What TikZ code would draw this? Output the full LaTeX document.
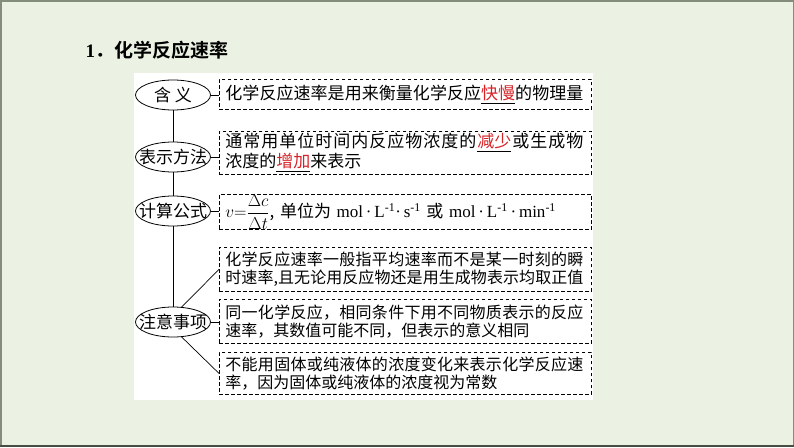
\documentclass[tikz,border=0pt]{standalone}
\usepackage{fontspec}
\usepackage{amsmath}
\setmainfont{Liberation Serif}
\newfontfamily\cjk{Noto Sans CJK SC}[BoldFont={Noto Sans CJK SC Bold}]
\usetikzlibrary{shapes.geometric,positioning}
\definecolor{pagegreen}{RGB}{235,241,227}
\definecolor{framegray}{RGB}{132,140,124}
\definecolor{framedark}{RGB}{70,78,66}
\definecolor{keyred}{RGB}{215,35,40}
\newcommand\keyword[1]{\underline{\textcolor{keyred}{#1}}}
% spread the characters of a full line over the box width
\makeatletter
\def\fullline#1{\hbox to 358pt{\spread@next#1\spread@stop}}
\def\spread@next#1#2\spread@stop{#1\if\relax\detokenize{#2}\relax\else
  \hfil\spread@next#2\spread@stop\fi}
\makeatother

\begin{document}
\begin{tikzpicture}[x=1pt,y=-1pt,
  topic/.style={ellipse,draw,line width=0.8pt,fill=white,minimum width=75pt,
    minimum height=30pt,inner sep=0pt,font=\cjk\fontsize{17}{20}\selectfont},
  note/.style={draw,dash pattern=on 3.5pt off 2.5pt,line width=0.8pt,anchor=north west,
    text width=360pt,inner xsep=6pt,inner ysep=0pt,align=left,
    font=\cjk\fontsize{17}{19.5}\selectfont},
  smallnote/.style={note,font=\cjk\fontsize{16}{18.5}\selectfont},
  link/.style={line width=0.7pt}]
  \useasboundingbox (0,0) rectangle (794,447);
  % page and frame
  \fill[pagegreen] (0,0) rectangle (794,447);
  \draw[framegray,line width=1.5pt] (0.75,0.75) rectangle (793.25,446.25);
  \draw[framedark,line width=2pt] (0,446) -- (794,446);
  \fill[white] (134,73) rectangle (593,400);
  \node[anchor=west,font=\cjk\bfseries\fontsize{19}{22}\selectfont] (title) at (82,50)
    {{\rmfamily\bfseries 1}．化学反应速率};

  % left column
  \node[topic] (hanyi)  at (173,95)  {\makebox[0pt]{含\hspace{4pt}义}};
  \node[topic] (fangfa) at (173,157) {\makebox[0pt]{表示方法}};
  \node[topic] (gongshi) at (173,211) {\makebox[0pt]{计算公式}};
  \node[topic] (zhuyi)  at (173,322) {\makebox[0pt]{注意事项}};

  % right column
  \node[note,minimum height=30pt] (meaning) at (219,79)
    {\fullline{化学反应速率是用来衡量化学反应{\keyword{快慢}}的物理量}};
  \node[note,minimum height=43pt] (method) at (219,131)
    {\fullline{通常用单位时间内反应物浓度的{\keyword{减少}}或生成物}\\
     浓度的\keyword{增加}来表示};
  \node[note,minimum height=33pt] (formula) at (219,194)
    {$v{=}\dfrac{\Delta c}{\Delta t}$, 单位为 \textrm{mol\,·\,L\textsuperscript{-1}·\,s\textsuperscript{-1}}
     或 \textrm{mol\,·\,L\textsuperscript{-1}\,·\,min\textsuperscript{-1}}};
  \node[smallnote,minimum height=44pt] (average) at (219,247)
    {\fullline{化学反应速率一般指平均速率而不是某一时刻的瞬}\\
     \fullline{时速率,且无论用反应物还是用生成物表示均取正值}};
  \node[smallnote,minimum height=44pt] (samerxn) at (219,299)
    {\fullline{同一化学反应，相同条件下用不同物质表示的反应}\\
     速率，其数值可能不同，但表示的意义相同};
  \node[smallnote,minimum height=42pt] (solid) at (219,352)
    {\fullline{不能用固体或纯液体的浓度变化来表示化学反应速}\\
     率，因为固体或纯液体的浓度视为常数};

  % connectors
  \draw[link] (hanyi) -- (fangfa);
  \draw[link] (fangfa) -- (gongshi);
  \draw[link] (gongshi) -- (zhuyi);
  \draw[link] (hanyi.east) -- (hanyi.east -| meaning.west);
  \draw[link] (fangfa.east) -- (fangfa.east -| method.west);
  \draw[link] (gongshi.east) -- (gongshi.east -| formula.west);
  \draw[link] (zhuyi.60) -- (average.west);
  \draw[link] (zhuyi.east) -- (zhuyi.east -| samerxn.west);
  \draw[link] (zhuyi.-60) -- (solid.west);
\end{tikzpicture}
\end{document}
